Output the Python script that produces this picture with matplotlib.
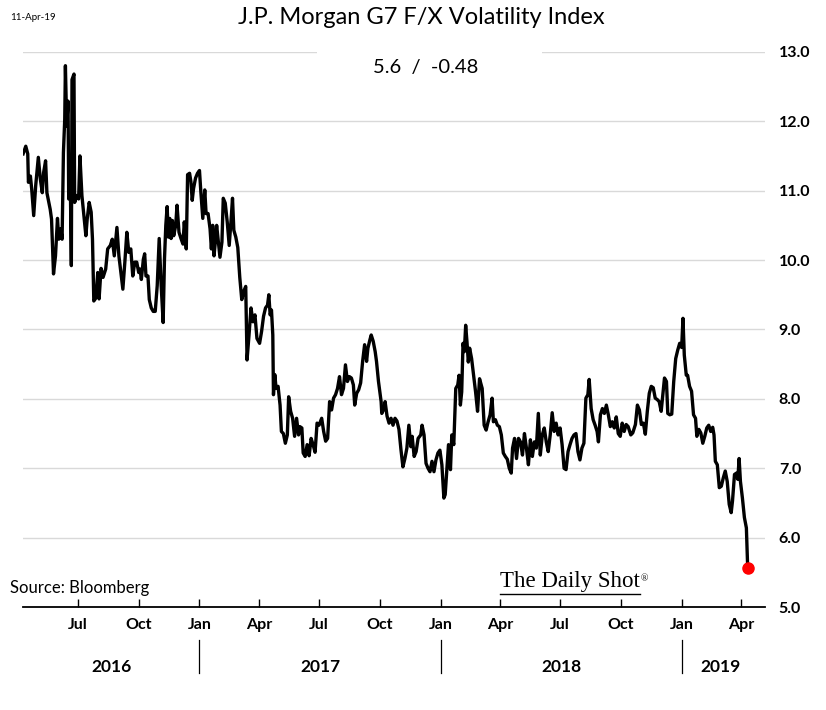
import matplotlib
matplotlib.use("Agg")
import matplotlib.pyplot as plt
import matplotlib.dates as mdates
import matplotlib.transforms as mtransforms
from matplotlib.patches import Rectangle
from matplotlib.lines import Line2D
import pandas as pd

# ---------------- data ----------------
dates = [
    "2016-04-09", "2016-04-13", "2016-04-16", "2016-04-17", "2016-04-20", "2016-04-22", "2016-04-25", "2016-04-28",
    "2016-05-02", "2016-05-05", "2016-05-08", "2016-05-10", "2016-05-13", "2016-05-15", "2016-05-20", "2016-05-22",
    "2016-05-25", "2016-05-28", "2016-05-31", "2016-06-02", "2016-06-05", "2016-06-07", "2016-06-09", "2016-06-11",
    "2016-06-12", "2016-06-14", "2016-06-16", "2016-06-17", "2016-06-19", "2016-06-21", "2016-06-22", "2016-06-25",
    "2016-06-26", "2016-06-29", "2016-07-02", "2016-07-04", "2016-07-07", "2016-07-10", "2016-07-13", "2016-07-15",
    "2016-07-18", "2016-07-21", "2016-07-23", "2016-07-25", "2016-07-28", "2016-07-31", "2016-08-02", "2016-08-05",
    "2016-08-08", "2016-08-12", "2016-08-15", "2016-08-19", "2016-08-22", "2016-08-25", "2016-08-29", "2016-09-01",
    "2016-09-04", "2016-09-07", "2016-09-10", "2016-09-13", "2016-09-16", "2016-09-19", "2016-09-22", "2016-09-25",
    "2016-09-28", "2016-10-01", "2016-10-03", "2016-10-05", "2016-10-08", "2016-10-10", "2016-10-12", "2016-10-15",
    "2016-10-17", "2016-10-20", "2016-10-23", "2016-10-26", "2016-10-29", "2016-11-01", "2016-11-04", "2016-11-07",
    "2016-11-09", "2016-11-11", "2016-11-13", "2016-11-15", "2016-11-17", "2016-11-19", "2016-11-21", "2016-11-23",
    "2016-11-26", "2016-11-28", "2016-12-01", "2016-12-04", "2016-12-07", "2016-12-09", "2016-12-12", "2016-12-14",
    "2016-12-17", "2016-12-19", "2016-12-21", "2016-12-23", "2016-12-26", "2016-12-29", "2017-01-01", "2017-01-03",
    "2017-01-06", "2017-01-09", "2017-01-11", "2017-01-14", "2017-01-17", "2017-01-19", "2017-01-21", "2017-01-23",
    "2017-01-25", "2017-01-27", "2017-01-29", "2017-02-01", "2017-02-04", "2017-02-06", "2017-02-09", "2017-02-12",
    "2017-02-15", "2017-02-18", "2017-02-20", "2017-02-22", "2017-02-25", "2017-02-28", "2017-03-03", "2017-03-06",
    "2017-03-09", "2017-03-12", "2017-03-14", "2017-03-17", "2017-03-20", "2017-03-23", "2017-03-26", "2017-03-29",
    "2017-04-02", "2017-04-05", "2017-04-08", "2017-04-11", "2017-04-14", "2017-04-16", "2017-04-18", "2017-04-20",
    "2017-04-22", "2017-04-23", "2017-04-25", "2017-04-27", "2017-04-30", "2017-05-03", "2017-05-05", "2017-05-08",
    "2017-05-11", "2017-05-14", "2017-05-16", "2017-05-19", "2017-05-22", "2017-05-25", "2017-05-28", "2017-05-31",
    "2017-06-02", "2017-06-05", "2017-06-07", "2017-06-10", "2017-06-13", "2017-06-16", "2017-06-19", "2017-06-22",
    "2017-06-25", "2017-06-28", "2017-07-01", "2017-07-05", "2017-07-08", "2017-07-11", "2017-07-14", "2017-07-17",
    "2017-07-20", "2017-07-23", "2017-07-26", "2017-07-29", "2017-08-01", "2017-08-04", "2017-08-07", "2017-08-10",
    "2017-08-13", "2017-08-16", "2017-08-19", "2017-08-22", "2017-08-24", "2017-08-27", "2017-08-30", "2017-09-02",
    "2017-09-05", "2017-09-08", "2017-09-11", "2017-09-13", "2017-09-16", "2017-09-18", "2017-09-21", "2017-09-24",
    "2017-09-26", "2017-09-29", "2017-10-03", "2017-10-04", "2017-10-08", "2017-10-09", "2017-10-12", "2017-10-15",
    "2017-10-18", "2017-10-21", "2017-10-24", "2017-10-27", "2017-10-30", "2017-11-02", "2017-11-05", "2017-11-08",
    "2017-11-11", "2017-11-14", "2017-11-17", "2017-11-19", "2017-11-22", "2017-11-25", "2017-11-28", "2017-12-02",
    "2017-12-04", "2017-12-07", "2017-12-10", "2017-12-13", "2017-12-16", "2017-12-19", "2017-12-22", "2017-12-25",
    "2017-12-28", "2017-12-31", "2018-01-03", "2018-01-06", "2018-01-08", "2018-01-11", "2018-01-13", "2018-01-16",
    "2018-01-18", "2018-01-21", "2018-01-24", "2018-01-27", "2018-01-29", "2018-01-31", "2018-02-02", "2018-02-04",
    "2018-02-06", "2018-02-08", "2018-02-10", "2018-02-12", "2018-02-14", "2018-02-17", "2018-02-20", "2018-02-23",
    "2018-02-26", "2018-03-01", "2018-03-05", "2018-03-08", "2018-03-11", "2018-03-14", "2018-03-17", "2018-03-20",
    "2018-03-22", "2018-03-25", "2018-03-28", "2018-03-31", "2018-04-03", "2018-04-06", "2018-04-09", "2018-04-12",
    "2018-04-15", "2018-04-18", "2018-04-20", "2018-04-23", "2018-04-26", "2018-04-29", "2018-05-02", "2018-05-05",
    "2018-05-08", "2018-05-11", "2018-05-14", "2018-05-17", "2018-05-20", "2018-05-23", "2018-05-26", "2018-05-29",
    "2018-06-01", "2018-06-04", "2018-06-07", "2018-06-10", "2018-06-13", "2018-06-16", "2018-06-19", "2018-06-22",
    "2018-06-25", "2018-06-28", "2018-07-01", "2018-07-04", "2018-07-07", "2018-07-10", "2018-07-13", "2018-07-16",
    "2018-07-19", "2018-07-22", "2018-07-25", "2018-07-28", "2018-07-31", "2018-08-03", "2018-08-06", "2018-08-09",
    "2018-08-12", "2018-08-14", "2018-08-17", "2018-08-20", "2018-08-23", "2018-08-26", "2018-08-28", "2018-08-31",
    "2018-09-03", "2018-09-06", "2018-09-09", "2018-09-12", "2018-09-15", "2018-09-18", "2018-09-21", "2018-09-24",
    "2018-09-27", "2018-09-30", "2018-10-03", "2018-10-06", "2018-10-09", "2018-10-12", "2018-10-16", "2018-10-19",
    "2018-10-23", "2018-10-26", "2018-10-29", "2018-11-01", "2018-11-04", "2018-11-07", "2018-11-10", "2018-11-13",
    "2018-11-16", "2018-11-19", "2018-11-22", "2018-11-25", "2018-11-28", "2018-12-01", "2018-12-04", "2018-12-06",
    "2018-12-09", "2018-12-11", "2018-12-14", "2018-12-17", "2018-12-20", "2018-12-23", "2018-12-26", "2018-12-29",
    "2019-01-01", "2019-01-03", "2019-01-05", "2019-01-08", "2019-01-10", "2019-01-13", "2019-01-16", "2019-01-19",
    "2019-01-22", "2019-01-24", "2019-01-27", "2019-01-30", "2019-02-02", "2019-02-05", "2019-02-08", "2019-02-11",
    "2019-02-14", "2019-02-17", "2019-02-19", "2019-02-21", "2019-02-24", "2019-02-27", "2019-03-02", "2019-03-05",
    "2019-03-08", "2019-03-11", "2019-03-14", "2019-03-17", "2019-03-19", "2019-03-22", "2019-03-25", "2019-03-27",
    "2019-03-29", "2019-03-31", "2019-04-03", "2019-04-06", "2019-04-09", "2019-04-11",
]

values = [
    11.53, 11.64, 11.53, 11.12, 11.21, 11.02, 10.64, 11.07,
    11.48, 11.17, 10.97, 11.26, 11.43, 10.97, 10.73, 10.59,
    9.80, 10.06, 10.60, 10.30, 10.45, 10.30, 11.55, 12.03,
    12.80, 11.93, 12.29, 10.88, 11.45, 9.92, 12.60, 12.68,
    10.83, 10.93, 10.88, 11.50, 10.93, 10.64, 10.35, 10.59,
    10.83, 10.69, 10.30, 9.41, 9.45, 9.82, 9.44, 9.88,
    9.75, 9.87, 10.16, 10.21, 10.30, 10.06, 10.47, 10.06,
    9.82, 9.58, 9.97, 10.40, 10.11, 10.16, 9.77, 9.97,
    9.97, 9.82, 9.87, 9.72, 10.01, 10.09, 9.77, 9.77,
    9.43, 9.31, 9.26, 9.26, 9.63, 10.31, 9.63, 9.10,
    10.01, 10.50, 10.77, 10.33, 10.60, 10.31, 10.57, 10.35,
    10.50, 10.79, 10.40, 10.31, 10.23, 10.55, 10.16, 11.23,
    11.25, 11.13, 10.86, 11.03, 11.18, 11.25, 11.29, 10.99,
    10.60, 11.01, 10.67, 10.67, 10.45, 10.16, 10.50, 10.06,
    10.26, 10.50, 10.31, 10.04, 10.26, 10.89, 10.82, 10.55,
    10.21, 10.60, 10.89, 10.43, 10.33, 10.18, 9.75, 9.43,
    9.55, 9.62, 8.56, 8.92, 9.31, 9.11, 9.21, 8.87,
    8.80, 8.97, 9.19, 9.31, 9.35, 9.50, 9.21, 9.28,
    8.92, 8.06, 8.35, 8.15, 8.18, 7.91, 7.53, 7.50,
    7.36, 7.48, 8.03, 7.82, 7.72, 7.46, 7.72, 7.48,
    7.60, 7.58, 7.22, 7.17, 7.34, 7.18, 7.43, 7.34,
    7.23, 7.65, 7.62, 7.72, 7.53, 7.39, 7.43, 7.96,
    7.84, 8.01, 8.06, 8.15, 8.32, 8.06, 8.15, 8.49,
    8.25, 8.32, 8.30, 8.20, 7.91, 8.08, 8.13, 8.23,
    8.54, 8.78, 8.54, 8.73, 8.85, 8.92, 8.83, 8.68,
    8.54, 8.25, 7.96, 7.79, 7.87, 7.96, 7.75, 7.65,
    7.72, 7.62, 7.72, 7.68, 7.56, 7.27, 7.02, 7.14,
    7.29, 7.62, 7.31, 7.46, 7.17, 7.24, 7.43, 7.48,
    7.62, 7.48, 7.07, 7.00, 6.95, 7.10, 6.95, 7.12,
    7.22, 7.26, 7.05, 6.57, 6.62, 7.05, 7.34, 6.98,
    7.48, 7.34, 8.15, 8.20, 8.34, 7.91, 8.10, 8.80,
    8.68, 9.06, 8.82, 8.53, 8.73, 8.58, 8.34, 8.10,
    7.82, 8.29, 8.15, 7.62, 7.55, 7.67, 7.77, 8.01,
    7.67, 7.70, 7.62, 7.60, 7.48, 7.22, 7.17, 7.13,
    7.00, 6.93, 7.29, 7.43, 7.14, 7.43, 7.38, 7.19,
    7.50, 7.29, 7.05, 7.41, 7.17, 7.38, 7.29, 7.79,
    7.19, 7.48, 7.58, 7.38, 7.24, 7.48, 7.80, 7.53,
    7.65, 7.48, 7.58, 7.34, 7.00, 6.98, 7.24, 7.34,
    7.43, 7.48, 7.50, 7.24, 7.12, 7.29, 7.36, 8.01,
    8.06, 8.28, 7.86, 7.70, 7.62, 7.53, 7.38, 7.77,
    7.86, 7.79, 7.91, 7.77, 7.60, 7.67, 7.58, 7.74,
    7.50, 7.46, 7.65, 7.53, 7.63, 7.60, 7.48, 7.51,
    7.63, 7.91, 7.84, 7.63, 7.65, 7.49, 7.82, 8.08,
    8.18, 8.16, 8.01, 7.99, 7.96, 7.82, 8.11, 8.30,
    8.25, 7.79, 7.77, 7.78, 8.25, 8.58, 8.70, 8.80,
    8.74, 9.16, 8.63, 8.34, 8.34, 8.18, 8.11, 7.77,
    7.72, 7.46, 7.56, 7.51, 7.36, 7.46, 7.58, 7.62,
    7.53, 7.59, 7.48, 7.10, 7.05, 6.72, 6.74, 6.86,
    6.96, 6.81, 6.48, 6.36, 6.53, 6.91, 6.93, 6.84,
    7.14, 6.81, 6.57, 6.29, 6.14, 5.56,
]

y_ticks = [5.0, 6.0, 7.0, 8.0, 9.0, 10.0, 11.0, 12.0, 13.0]
year_labels = ["2016", "2017", "2018", "2019"]
title = "J.P. Morgan G7 F/X Volatility Index"
subtitle = "5.6  /  -0.48"
date_label = "11-Apr-19"
source = "Source: Bloomberg"
brand = "The Daily Shot"

# ---------------- plot ----------------
FONT = "Lato"
plt.rcParams["font.family"] = [FONT, "DejaVu Sans"]

x = pd.to_datetime(dates)
fig = plt.figure(figsize=(8.26, 7.10), dpi=100)
ax = fig.add_axes([0.028, 0.145, 0.898, 0.782])

ax.plot(x, values, color="black", lw=2.4, solid_joinstyle="round", zorder=3)
ax.plot(x[-1:], values[-1:], "o", color="#ff0000", ms=8, zorder=4)

x_start = pd.Timestamp("2016-04-09")
x_end = pd.Timestamp("2019-05-07")
ax.set_xlim(x_start, x_end)
ax.set_ylim(5, 13)

ax.set_yticks(y_ticks)
ax.yaxis.tick_right()
ax.set_yticklabels([f"{v:.1f}" for v in y_ticks], fontsize=11.5, fontweight="bold")
ax.tick_params(axis="y", length=0, pad=10)
ax.grid(axis="y", color="#d9d9d9", lw=1.0, zorder=0)
ax.grid(axis="x", visible=False)

ax.xaxis.set_major_locator(mdates.MonthLocator(bymonth=[1, 4, 7, 10]))
ax.xaxis.set_major_formatter(mdates.DateFormatter("%b"))
for lab in ax.get_xticklabels():
    lab.set_fontweight("bold")
ax.tick_params(axis="x", direction="in", length=6, width=1.0, labelsize=11.5, pad=8)

for s in ["top", "left", "right"]:
    ax.spines[s].set_visible(False)
ax.spines["bottom"].set_linewidth(1.3)

# Year labels and separators
trans = mtransforms.blended_transform_factory(ax.transData, ax.transAxes)
bounds = [x_start, pd.Timestamp("2017-01-01"), pd.Timestamp("2018-01-01"),
          pd.Timestamp("2019-01-01"), pd.Timestamp("2019-04-30")]
for i, lab in enumerate(year_labels):
    a, b = bounds[i], bounds[i + 1]
    mid = a + (b - a) / 2
    ax.text(mid, -0.108, lab, transform=trans, ha="center", va="center",
            fontsize=12.5, fontweight="bold")
for sep in bounds[1:4]:
    ax.add_line(Line2D([sep, sep], [-0.06, -0.118], transform=trans,
                       color="black", lw=0.9, clip_on=False))

# White box behind subtitle, covering the top gridline
fig.add_artist(Rectangle((317 / 826, 1 - 95 / 710), (542 - 317) / 826, 55 / 710,
                         transform=fig.transFigure, facecolor="white",
                         edgecolor="none", zorder=2))
fig.text(426 / 826, 1 - 68 / 710, subtitle, ha="center", va="center",
         fontsize=14.5, zorder=3)

fig.text(421 / 826, 1 - 17 / 710, title, ha="center", va="center", fontsize=17)
fig.text(10 / 826, 1 - 17 / 710, date_label, ha="left", va="center", fontsize=7)
fig.text(10 / 826, 1 - 588 / 710, source, ha="left", va="center", fontsize=12)

# Brand mark
bt = fig.text(500 / 826, 1 - 582 / 710, brand, ha="left", va="center",
              fontsize=16.5, family=["Liberation Serif"])
fig.canvas.draw()
bb = bt.get_window_extent().transformed(fig.transFigure.inverted())
fig.text(bb.x1 + 0.001, bb.y1 - 0.004, "®", ha="left", va="top", fontsize=7,
         family=["Liberation Serif"])
fig.add_artist(Line2D([bb.x0, bb.x1], [bb.y0 - 0.002, bb.y0 - 0.002],
                      transform=fig.transFigure, color="black", lw=1.0))

fig.savefig("out.png", dpi=100, facecolor="white")
